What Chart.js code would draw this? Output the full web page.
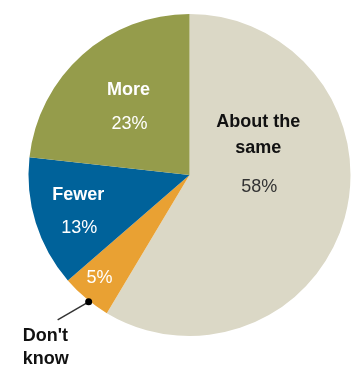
<!DOCTYPE html>
<html>
<head>
<meta charset="utf-8">
<script src="https://cdn.jsdelivr.net/npm/chart.js@4"></script>
<style>
  html, body { margin: 0; padding: 0; background: #fff; }
  #wrap { width: 351px; height: 368px; }
</style>
</head>
<body>
<div id="wrap"><canvas id="pie" width="351" height="368"></canvas></div>
<script>
// categories, clockwise from 12 o'clock
const categories = ['About the same', "Don't know", 'Fewer', 'More']
const values = [58, 5, 13, 23]
const pctLabels = ['58%', '5%', '13%', '23%']

const colors = ['#dbd8c6', '#e9a133', '#00629a', '#959c4b']

// label placement per slice: name lines, colours, angle offset from slice middle (deg), radius fraction
const labelStyle = [
    { name: ['About the', 'same'], nameColor: '#111', pctColor: '#333', da: -5.8, rf: 0.44, gap: 39 },
    { name: null, nameColor: '#111', pctColor: '#fff', da: 1.1, rf: 0.85, gap: 0 },
    { name: ['Fewer'], nameColor: '#fff', pctColor: '#fff', da: -8.4, rf: 0.76, gap: 33 },
    { name: ['More'], nameColor: '#fff', pctColor: '#fff', da: -7.8, rf: 0.49, gap: 34 }
]

const sliceLabels = {
    id: 'sliceLabels',
    afterDatasetsDraw(chart) {
        const ctx = chart.ctx
        const arcs = chart.getDatasetMeta(0).data
        ctx.save()
        ctx.textAlign = 'center'
        ctx.textBaseline = 'middle'
        arcs.forEach((arc, i) => {
            const p = arc.getProps(['x', 'y', 'startAngle', 'endAngle', 'outerRadius'], true)
            const st = labelStyle[i]
            const a = (p.startAngle + p.endAngle) / 2 + st.da * Math.PI / 180
            const x = p.x + Math.cos(a) * p.outerRadius * st.rf
            const y = p.y + Math.sin(a) * p.outerRadius * st.rf

            ctx.font = '18px "Liberation Sans", Arial, sans-serif'
            ctx.fillStyle = st.pctColor
            ctx.fillText(pctLabels[i], x, y)

            if (st.name) {
                ctx.font = 'bold 18px "Liberation Sans", Arial, sans-serif'
                ctx.fillStyle = st.nameColor
                const n = st.name.length
                st.name.forEach((line, k) => {
                    ctx.fillText(line, x - 1, y - st.gap - (n - 1 - k) * 26)
                })
            }

            // outside label with leader for the small slice
            if (!st.name) {
                const ea = (p.startAngle + p.endAngle) / 2 - 1.5 * Math.PI / 180
                const dx = p.x + Math.cos(ea) * (p.outerRadius + 1)
                const dy = p.y + Math.sin(ea) * (p.outerRadius + 1)
                ctx.strokeStyle = '#333'
                ctx.lineWidth = 1.5
                ctx.beginPath()
                ctx.moveTo(dx, dy)
                ctx.lineTo(dx - 31, dy + 18)
                ctx.stroke()
                ctx.fillStyle = '#000'
                ctx.beginPath()
                ctx.arc(dx, dy, 3.5, 0, Math.PI * 2)
                ctx.fill()

                ctx.font = 'bold 18px "Liberation Sans", Arial, sans-serif'
                ctx.fillStyle = '#111'
                ctx.textAlign = 'left'
                ctx.fillText("Don't", dx - 66, dy + 34)
                ctx.fillText('know', dx - 66, dy + 57)
                ctx.textAlign = 'center'
            }
        })
        ctx.restore()
    }
}

new Chart(document.getElementById('pie'), {
    type: 'pie',
    data: {
        labels: categories,
        datasets: [{
            data: values,
            backgroundColor: colors,
            borderWidth: 0
        }]
    },
    options: {
        responsive: false,
        animation: false,
        layout: { padding: { left: 28, right: 0, top: 14, bottom: 32 } },
        plugins: {
            legend: { display: false },
            tooltip: { enabled: false }
        }
    },
    plugins: [sliceLabels]
})
</script>
</body>
</html>
